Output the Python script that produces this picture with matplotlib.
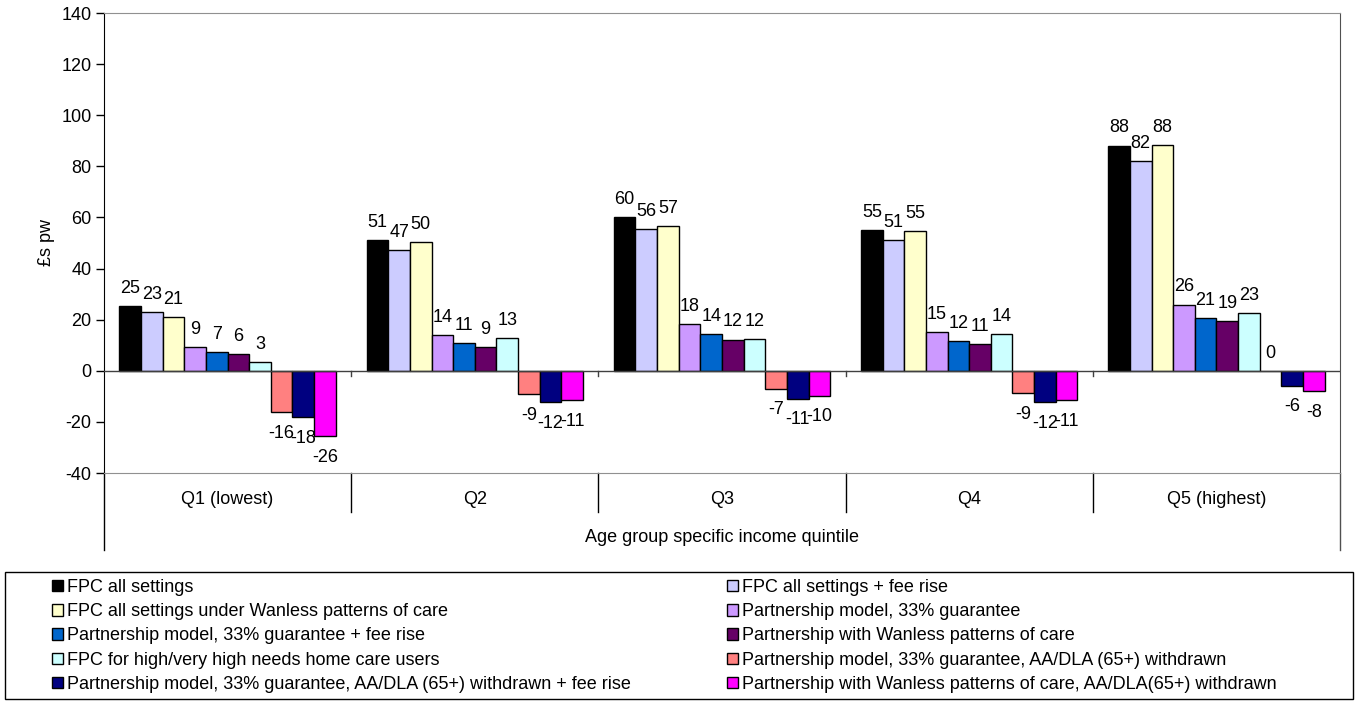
import numpy as np
import matplotlib
matplotlib.use('Agg')
import matplotlib.pyplot as plt
import matplotlib.transforms as mtransforms
from matplotlib.patches import Patch, Rectangle

plt.rcParams['font.family'] = ['Liberation Sans', 'DejaVu Sans']
plt.rcParams['axes.unicode_minus'] = False

# data (£ per week)
quintiles = ['Q1 (lowest)', 'Q2', 'Q3', 'Q4', 'Q5 (highest)']

series_names = [
    'FPC all settings',
    'FPC all settings + fee rise',
    'FPC all settings under Wanless patterns of care',
    'Partnership model, 33% guarantee',
    'Partnership model, 33% guarantee + fee rise',
    'Partnership with Wanless patterns of care',
    'FPC for high/very high needs home care users',
    'Partnership model, 33% guarantee, AA/DLA (65+) withdrawn',
    'Partnership model, 33% guarantee, AA/DLA (65+) withdrawn + fee rise',
    'Partnership with Wanless patterns of care, AA/DLA(65+) withdrawn',
]

series_colors = ['#000000', '#CCCCFF', '#FFFFCC', '#CC99FF', '#0066CC',
                 '#660066', '#CCFFFF', '#FF8080', '#000080', '#FF00FF']

fpc_all = [25.4, 51.2, 60.0, 55.0, 88.1]
fpc_fee = [23.1, 47.3, 55.5, 51.0, 82.1]
fpc_wanless = [21.0, 50.4, 56.6, 54.8, 88.4]
pship = [9.4, 13.9, 18.2, 15.3, 25.9]
pship_fee = [7.2, 10.7, 14.3, 11.6, 20.6]
pship_wanless = [6.5, 9.3, 12.2, 10.6, 19.4]
fpc_high = [3.3, 12.8, 12.3, 14.3, 22.7]
pship_aa = [-16.3, -9.2, -7.0, -8.6, 0.0]
pship_aa_fee = [-18.0, -12.4, -10.9, -12.3, -5.8]
pship_wanless_aa = [-25.7, -11.4, -9.7, -11.4, -8.0]

series_values = [fpc_all, fpc_fee, fpc_wanless, pship, pship_fee,
                 pship_wanless, fpc_high, pship_aa, pship_aa_fee, pship_wanless_aa]

yticks = list(range(-40, 141, 20))

W, H = 1359, 701
fig = plt.figure(figsize=(W / 100, H / 100), dpi=100)
ax = fig.add_axes([104 / W, 1 - 473 / H, (1340 - 104) / W, (473 - 13) / H])

n = len(series_names)
group = 0.875
bw = group / n
x0 = np.arange(len(quintiles)) + (1 - group) / 2

for k, (vals, col) in enumerate(zip(series_values, series_colors)):
    xs = x0 + bw * (k + 0.5)
    ax.bar(xs, vals, width=bw, color=col, edgecolor='black', linewidth=1, zorder=3)
    for x, v in zip(xs, vals):
        if v >= 0:
            ax.annotate('{:d}'.format(int(round(v))), xy=(x, v), xytext=(0, 6.6),
                        textcoords='offset points', ha='center', va='bottom', fontsize=13)
        else:
            ax.annotate('{:d}'.format(int(round(v))), xy=(x, v), xytext=(0, -9.2),
                        textcoords='offset points', ha='center', va='top', fontsize=13)

ax.set_xlim(0, len(quintiles))
ax.set_ylim(-40, 140)
ax.set_yticks(yticks)
ax.set_xticks([])
ax.tick_params(axis='y', direction='out', length=6, width=1, labelsize=13, pad=3)

ax.axhline(0, color='#404040', linewidth=1, zorder=4)

ax.spines['left'].set_color('black')
ax.spines['top'].set_color('#909090')
ax.spines['bottom'].set_color('#909090')
ax.spines['right'].set_color('#505050')

trans = mtransforms.blended_transform_factory(ax.transData, ax.transAxes)
# spines run on below the axis into the category area
ax.plot([0, 0], [0, -77 / 460], transform=ax.transAxes, color='black', lw=1, clip_on=False)
ax.plot([1, 1], [0, -77 / 460], transform=ax.transAxes, color='#505050', lw=1, clip_on=False)
for i in range(1, len(quintiles)):
    ax.plot([i, i], [0, -39 / 460], transform=trans, color='black', lw=1, clip_on=False)
    ax.plot([i, i], [0, -2.2], color='#404040', lw=1, zorder=4)

for i, q in enumerate(quintiles):
    ax.text(i + 0.5, -27 / 460, q, transform=trans, ha='center', va='center', fontsize=13)

ax.text(0.5, -65 / 460, 'Age group specific income quintile', transform=ax.transAxes,
        ha='center', va='center', fontsize=13)

ax.set_ylabel('£s pw', fontsize=13)
ax.yaxis.set_label_coords(-0.04, 0.5)

# legend: two columns, filled row by row as in the original
handles = [Patch(facecolor=c, edgecolor='black', linewidth=1) for c in series_colors]
common = dict(loc='upper left', frameon=False, borderpad=0, borderaxespad=0,
              handlelength=0.6, handleheight=0.6, handletextpad=0.22,
              labelspacing=0.4, fontsize=13)
leg1 = fig.legend(handles[0::2], series_names[0::2], bbox_to_anchor=(52 / W, 1 - 579 / H), **common)
leg2 = fig.legend(handles[1::2], series_names[1::2], bbox_to_anchor=(727 / W, 1 - 579 / H), **common)
fig.add_artist(Rectangle((5 / W, 1 - 699 / H), 1348 / W, 127 / H, transform=fig.transFigure,
                         fill=False, edgecolor='black', linewidth=1))

fig.savefig('out.png', dpi=100)
plt.close()
